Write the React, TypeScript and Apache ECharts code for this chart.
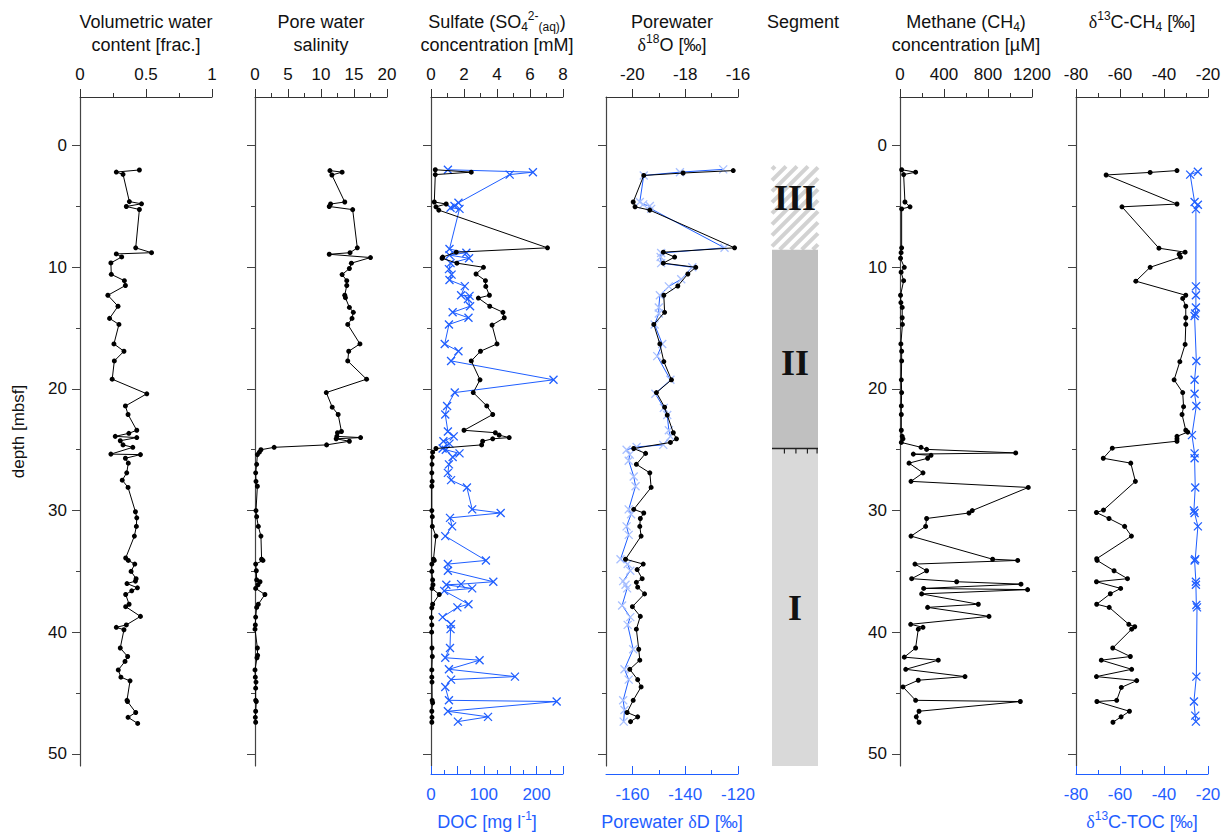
import React, { useEffect, useRef } from "react";
import * as echarts from "echarts";

const FONT = "'Liberation Sans', Arial, Helvetica, sans-serif";
const SERIF = "'Liberation Serif', 'DejaVu Serif', serif";
const BLUE = "#1f5eff";
const LIGHT_BLUE = "#a9c0ff";
const AXIS = "#333";
const TEXT = "#111";

const Y_MIN = -4;
const Y_MAX = 51;
const DEPTH_MAJOR = [0, 10, 20, 30, 40, 50];
const DEPTH_MINOR = [5, 15, 25, 35, 45];

// ---------- Volumetric water content ----------
const WC_DEPTH = [2.0, 2.17, 2.36, 4.6, 4.78, 5.0, 5.25, 8.4, 8.8, 8.9, 9.15, 9.64, 10.58, 11.1, 11.5, 12.3, 13.2, 14.2, 14.7, 16.3, 16.9, 17.7, 19.2, 20.4, 21.4, 22.1, 23.4, 23.65, 23.9, 24.0, 24.26, 24.6, 24.8, 25.36, 25.4, 25.7, 26.1, 26.9, 27.5, 28.1, 30.1, 30.6, 31.3, 32.1, 33.9, 34.1, 34.4, 35.0, 35.6, 35.8, 36.0, 36.35, 36.6, 36.9, 37.7, 37.9, 38.7, 39.4, 39.6, 39.8, 41.3, 42.0, 42.4, 43.1, 43.7, 44.0, 45.6, 45.7, 46.6, 47.0, 47.5];
const WC_VALUE = [0.45, 0.275, 0.326, 0.374, 0.466, 0.351, 0.45, 0.422, 0.542, 0.275, 0.316, 0.234, 0.237, 0.336, 0.344, 0.211, 0.288, 0.224, 0.295, 0.257, 0.333, 0.26, 0.244, 0.506, 0.344, 0.364, 0.43, 0.37, 0.267, 0.43, 0.305, 0.326, 0.4, 0.234, 0.458, 0.344, 0.366, 0.354, 0.32, 0.364, 0.42, 0.43, 0.427, 0.412, 0.346, 0.366, 0.415, 0.387, 0.425, 0.42, 0.356, 0.435, 0.392, 0.346, 0.372, 0.346, 0.458, 0.351, 0.275, 0.333, 0.305, 0.361, 0.341, 0.29, 0.31, 0.379, 0.356, 0.36, 0.422, 0.364, 0.437];

// ---------- Pore water salinity ----------
const SAL_DEPTH = [2.05, 2.18, 2.41, 4.63, 4.8, 5.0, 5.26, 8.4, 8.8, 8.93, 9.2, 9.66, 10.1, 10.6, 11.1, 11.5, 12.3, 12.5, 13.3, 13.7, 14.2, 14.7, 16.3, 16.9, 17.7, 19.2, 20.3, 21.5, 22.1, 23.5, 23.6, 23.9, 24.0, 24.1, 24.3, 24.6, 24.8, 25.0, 25.2, 25.4, 26.2, 26.9, 27.6, 28.0, 30.0, 30.5, 31.3, 32.1, 34.0, 34.1, 34.4, 34.95, 35.7, 35.85, 36.1, 36.4, 36.9, 37.7, 37.96, 38.76, 39.4, 39.75, 41.3, 41.9, 42.1, 43.1, 43.7, 44.1, 44.6, 45.6, 45.7, 46.5, 47.0, 47.4];
const SAL_VALUE = [11.35, 13.2, 11.65, 13.6, 11.45, 11.25, 14.8, 15.5, 14.4, 11.25, 17.5, 14.6, 14.3, 13.2, 13.9, 13.9, 13.6, 13.7, 14.3, 14.9, 14.7, 14.05, 15.9, 14.2, 14.05, 16.9, 10.8, 11.7, 12.6, 13.1, 12.5, 12.4, 16.0, 12.3, 14.3, 10.85, 2.9, 0.9, 0.66, 0.36, 0.25, 0.1, 0.15, 0.36, 0.15, 0.25, 0.5, 0.9, 1.0, 1.2, 0.1, 0.2, 0.25, 0.76, 0.46, 0.1, 1.5, 0.5, 0.25, 0.1, 0.05, 0.0, 0.36, 0.4, 0.3, 0.0, 0.05, 0.15, 0.1, 0.1, 0.2, 0.1, 0.05, 0.1];

// ---------- Sulfate ----------
const SO4_DEPTH = [1.98, 2.18, 2.38, 4.63, 4.8, 5.03, 5.3, 8.4, 8.76, 9.16, 9.26, 9.66, 10.0, 10.55, 11.1, 11.57, 12.3, 12.53, 13.2, 13.7, 14.15, 14.75, 16.3, 16.9, 17.7, 19.25, 20.3, 21.4, 22.1, 23.4, 23.6, 23.8, 24.0, 24.1, 24.3, 24.6, 24.9, 25.2, 25.6, 26.2, 26.9, 27.6, 28.0, 30.0, 30.5, 31.3, 32.1, 34.0, 34.1, 34.4, 35.0, 35.7, 36.1, 36.4, 36.9, 37.7, 38.0, 38.8, 39.4, 40.0, 41.3, 42.0, 43.1, 43.7, 44.1, 45.6, 45.8, 46.5, 47.0, 47.4];
const SO4_VALUE = [0.26, 2.44, 0.26, 0.2, 0.92, 0.3, 0.47, 7.06, 1.53, 0.71, 0.67, 1.57, 3.18, 2.73, 3.3, 3.32, 3.54, 2.87, 3.56, 4.36, 4.44, 3.7, 4.0, 3.0, 2.44, 2.97, 2.56, 3.38, 3.74, 2.0, 3.9, 4.13, 4.74, 3.74, 3.13, 3.07, 0.3, 0.1, 0.08, 0.06, 0.05, 0.07, 0.05, 0.05, 0.08, 0.08, 0.3, 0.15, 0.2, 0.05, 0.05, 0.1, 0.12, 0.06, 0.5, 0.1, 0.05, 0.03, 0.05, 0.04, 0.06, 0.08, 0.05, 0.05, 0.06, 0.07, 0.1, 0.05, 0.06, 0.05];

// ---------- DOC ----------
const DOC_DEPTH = [1.98, 2.18, 2.38, 4.7, 4.96, 5.1, 5.2, 8.5, 8.8, 9.0, 9.26, 9.66, 10.15, 10.6, 11.05, 11.55, 12.3, 12.35, 12.6, 13.2, 13.7, 14.15, 14.7, 16.3, 16.9, 17.7, 19.25, 20.3, 21.4, 22.1, 23.5, 23.9, 24.3, 24.5, 24.9, 25.0, 25.3, 25.6, 26.2, 26.9, 27.5, 28.1, 29.9, 30.2, 30.6, 31.3, 32.1, 34.1, 34.4, 34.95, 35.85, 36.05, 36.1, 36.4, 36.6, 37.7, 37.96, 38.76, 39.35, 39.75, 41.3, 42.1, 42.3, 43.05, 43.65, 43.9, 44.5, 45.6, 45.7, 46.5, 46.96, 47.35];
const DOC_VALUE = [32, 193, 149, 52, 44.5, 37, 54, 35, 67, 35, 72, 37, 34, 39, 35, 64, 57, 73, 70, 74, 41, 71, 34, 26, 52, 38, 232, 45, 30.5, 27, 32, 43, 23.5, 35, 22, 28, 54, 41, 34, 32, 38, 68, 78, 132, 36, 40, 27, 104, 32, 32, 118, 57, 29, 78, 25, 71, 50, 22, 38, 37, 36, 27, 92, 34, 159, 38, 27, 34, 238, 32, 108, 51];

// ---------- Porewater d18O ----------
const O18_DEPTH = [2.05, 2.25, 2.45, 4.63, 5.03, 5.3, 8.4, 8.76, 9.16, 9.66, 10.0, 10.55, 11.54, 12.3, 13.7, 14.7, 16.3, 17.75, 19.25, 20.3, 21.5, 22.15, 23.6, 24.1, 24.4, 24.9, 25.3, 26.2, 26.9, 28.1, 29.9, 30.2, 30.65, 31.3, 32.1, 34.0, 34.4, 34.85, 35.6, 35.9, 36.3, 36.85, 37.9, 38.7, 39.75, 41.4, 42.3, 43.05, 43.9, 44.5, 45.6, 46.6, 46.96, 47.35];
const O18_VALUE = [-16.18, -18.08, -19.57, -19.97, -19.9, -19.34, -16.13, -18.83, -18.4, -18.83, -17.6, -17.9, -18.28, -18.81, -18.78, -19.19, -18.96, -18.81, -18.52, -19.09, -18.78, -18.68, -18.45, -18.33, -18.56, -19.95, -19.5, -19.85, -19.34, -19.29, -19.95, -19.57, -19.7, -19.72, -19.67, -20.26, -19.59, -19.82, -19.63, -19.85, -19.8, -19.54, -20.0, -19.7, -19.85, -19.76, -19.72, -20.1, -19.8, -19.67, -19.97, -20.2, -19.8, -20.07];

// ---------- Porewater dD ----------
const DD_DEPTH = [1.95, 2.18, 2.45, 4.63, 4.83, 4.96, 5.2, 8.4, 8.83, 9.16, 9.66, 10.0, 10.98, 11.57, 12.3, 13.3, 13.8, 14.7, 16.3, 17.3, 19.25, 20.4, 21.56, 22.15, 23.4, 23.9, 24.6, 24.77, 25.0, 25.4, 25.9, 27.2, 28.0, 29.9, 30.3, 31.3, 32.0, 34.0, 34.4, 34.95, 35.8, 36.1, 36.4, 37.8, 38.76, 39.4, 41.4, 43.05, 43.9, 45.6, 46.4, 47.35];
const DD_VALUE = [-125.6, -142.0, -155.7, -157.2, -155.9, -153.4, -152.9, -125.1, -149.1, -149.3, -149.1, -137.3, -141.5, -146.2, -149.6, -150, -150, -151.6, -148.7, -150.6, -145.6, -151.3, -148.1, -146.8, -146.2, -145.6, -148.3, -158.4, -162.2, -161, -161.4, -159.5, -158.8, -161.4, -160.5, -162.2, -161.4, -164.5, -161.8, -160.8, -163.5, -162.6, -162, -163.9, -160.8, -161.8, -159.7, -163, -161.4, -163.5, -163, -163.3];

// ---------- Segments ----------
const SEG_LABEL = ["III", "II", "I"];
const SEG_TOP = [1.7, 8.55, 24.9];
const SEG_BOTTOM = [8.55, 24.9, 51];
const SEG_LABEL_DEPTH = [4.3, 17.9, 38.0];

// ---------- Methane ----------
const CH4_DEPTH = [1.98, 2.18, 2.38, 4.63, 5.03, 5.2, 8.4, 8.8, 9.26, 10.0, 10.4, 11.1, 12.3, 12.9, 13.3, 14.15, 14.7, 16.3, 16.9, 17.7, 19.25, 20.3, 21.4, 22.1, 23.4, 23.9, 24.1, 24.4, 24.8, 24.97, 25.26, 25.36, 25.46, 25.7, 26.1, 26.9, 27.6, 28.1, 30.0, 30.2, 30.65, 31.3, 32.1, 34.0, 34.1, 34.4, 34.95, 35.6, 35.85, 36.05, 36.4, 36.5, 36.85, 37.7, 37.96, 38.7, 39.35, 39.6, 39.75, 41.3, 42.05, 42.3, 43.05, 43.65, 43.95, 44.5, 45.6, 45.7, 46.5, 46.96, 47.4];
const CH4_VALUE = [15, 142, 33, 45, 91, 15, 15, 10, 5, 39, 10, 33, 5, 8, 20, 20, 22, 8, 15, 15, 12, 15, 12, 12, 12, 20, 27, 12, 191, 242, 1052, 121, 282, 251, 82, 209, 100, 1166, 657, 627, 242, 233, 100, 842, 1070, 136, 242, 106, 515, 1100, 215, 1160, 197, 712, 251, 809, 97, 209, 166, 142, 39, 348, 52, 591, 166, 27, 142, 1094, 173, 148, 173];

// ---------- d13C-CH4 ----------
const C13CH4_DEPTH = [2.05, 2.2, 2.41, 4.8, 5.03, 8.43, 8.76, 8.93, 9.16, 10.0, 11.14, 12.3, 12.56, 13.2, 14.15, 14.7, 16.34, 17.76, 19.25, 20.3, 21.46, 22.1, 23.4, 23.55, 23.9, 24.1, 24.3, 24.87, 25.7, 26.1, 27.6, 29.96, 30.16, 30.65, 31.3, 32.1, 33.96, 34.1, 34.95, 35.6, 35.85, 36.4, 36.84, 37.7, 37.96, 39.35, 39.55, 39.75, 41.3, 42.0, 42.3, 43.05, 43.65, 43.98, 44.54, 45.6, 45.7, 46.5, 46.96, 47.4];
const C13CH4_VALUE = [-34.1, -46.3, -66.3, -34.1, -59.1, -42.3, -30.4, -33.1, -32.5, -46.3, -52.8, -30.1, -31.5, -30.1, -30.1, -30.1, -30.4, -32.8, -35.4, -31.5, -31.1, -31.8, -30.1, -29.2, -34.1, -34.1, -34.1, -63.5, -67.6, -55.1, -53, -67.5, -70.7, -65, -57.9, -54.8, -70.6, -70.4, -62.7, -56.6, -70.7, -59.7, -64.4, -70.6, -64.9, -56, -53.3, -54.7, -63.3, -55.3, -68.5, -54.7, -70.7, -52.4, -59.4, -61.5, -70.5, -55.7, -59.5, -63.2];

// ---------- d13C-TOC ----------
const C13TOC_DEPTH = [2.15, 2.38, 4.63, 4.86, 5.22, 11.57, 12.3, 13.3, 13.8, 14.0, 17.7, 19.25, 20.4, 21.4, 23.8, 25.3, 25.7, 28.1, 30.0, 30.2, 31.3, 34.0, 34.1, 35.85, 36.1, 37.76, 37.96, 43.65, 45.7, 46.86, 47.35];
const C13TOC_VALUE = [-24.6, -28.1, -26.1, -24.6, -25.5, -25.5, -25.5, -25.5, -25.8, -26.1, -25.3, -26.1, -26.1, -25.3, -27.3, -26.1, -26.1, -25.8, -26.4, -26.1, -24.6, -25.8, -26.1, -25.5, -25.5, -25.3, -25.0, -25.3, -26.4, -25.8, -25.5];

// ---------- layout ----------
const GRID_LEFT = [80, 255, 431, 606, 772, 900, 1076];
const GRID_WIDTH = [132, 132, 132, 132, 46, 132, 132];
const GRID_TOP = 97;
const GRID_HEIGHT = 669;

const CROSS = "path://M0,0L10,10M10,0L0,10";

function zip(vals: number[], depths: number[]) {
  return depths.map((d, i) => [vals[i], d]);
}

function mkRich(color: string) {
  return {
    sub: { fontSize: 12, fontFamily: FONT, fill: color, verticalAlign: "bottom", lineHeight: 10 },
    sup: { fontSize: 12, fontFamily: FONT, fill: color, verticalAlign: "top", lineHeight: 16 },
    d: { fontSize: 18, fontFamily: SERIF, fill: color },
  };
}

function label(text: string, x: number, y: number, color = TEXT) {
  return {
    type: "text",
    x,
    y,
    style: {
      text,
      fill: color,
      fontSize: 18,
      fontFamily: FONT,
      lineHeight: 23,
      align: "center",
      verticalAlign: "top",
      rich: mkRich(color),
    },
  };
}

function deepMerge(a: any, b: any): any {
  const out: any = Array.isArray(a) ? [...a] : { ...a };
  Object.keys(b).forEach((k) => {
    const bv = b[k];
    if (bv && typeof bv === "object" && !Array.isArray(bv) && a[k] && typeof a[k] === "object" && !Array.isArray(a[k])) {
      out[k] = deepMerge(a[k], bv);
    } else {
      out[k] = bv;
    }
  });
  return out;
}

const plainNum = (v: number) => String(v);

function topAxis(gridIndex: number, min: number, max: number, interval: number | null, extra: any = {}) {
  const ax: any = {
    type: "value",
    gridIndex,
    position: "top",
    min,
    max,
    axisLine: { show: true, onZero: false, lineStyle: { color: AXIS, width: 1 } },
    axisTick: { show: true, length: 8, lineStyle: { color: AXIS } },
    minorTick: { show: interval !== null, splitNumber: 2, length: 4, lineStyle: { color: AXIS } },
    axisLabel: { show: true, fontSize: 17, fontFamily: FONT, color: TEXT, margin: 14, formatter: plainNum },
    splitLine: { show: false },
    minorSplitLine: { show: false },
  };
  if (interval !== null) ax.interval = interval;
  return deepMerge(ax, extra);
}

function bottomAxis(gridIndex: number, min: number, max: number, interval: number | null, extra: any = {}) {
  return topAxis(gridIndex, min, max, interval, deepMerge({
    position: "bottom",
    offset: 8,
    axisLine: { lineStyle: { color: BLUE } },
    axisTick: { inside: true, lineStyle: { color: BLUE } },
    minorTick: { lineStyle: { color: BLUE } },
    axisLabel: { color: BLUE, margin: 12 },
  }, extra));
}

function minorOverlay(axis: any, values: number[]) {
  return deepMerge(axis, {
    axisLine: { show: false },
    axisLabel: { show: false },
    axisTick: { customValues: values, length: 4 },
    minorTick: { show: false },
  });
}

function buildOption() {
  const xAxes: any[] = [];
  const add = (ax: any) => { xAxes.push(ax); return xAxes.length - 1; };

  const xWC = add(topAxis(0, 0, 1, 0.5));
  const xSAL = add(topAxis(1, 0, 20, 5));
  const xSO4 = add(topAxis(2, 0, 8, 2));
  const xDOC = add(bottomAxis(2, 0, 250, 50, {
    axisLabel: { formatter: (v: number) => (v % 100 === 0 ? String(v) : "") },
  }));
  const o18Main = topAxis(3, -21, -16, null, {
    axisTick: { customValues: [-20, -18, -16] },
    axisLabel: { customValues: [-20, -18, -16] },
  });
  const xO18 = add(o18Main);
  add(minorOverlay(o18Main, [-19, -17]));
  const dDMain = bottomAxis(3, -170, -120, null, {
    axisTick: { customValues: [-160, -140, -120] },
    axisLabel: { customValues: [-160, -140, -120] },
  });
  const xDD = add(dDMain);
  add(minorOverlay(dDMain, [-150, -130]));
  const xSEG = add({ type: "value", gridIndex: 4, min: 0, max: 1, show: false });
  const xCH4 = add(topAxis(5, 0, 1200, 400));
  const xC13 = add(topAxis(6, -80, -20, 20));
  const xTOC = add(bottomAxis(6, -80, -20, 20));

  const yAxes: any[] = [];
  const yIdx: number[] = [];
  GRID_LEFT.forEach((_, g) => {
    yIdx[g] = yAxes.length;
    if (g === 4) {
      yAxes.push({ type: "value", gridIndex: g, inverse: true, min: Y_MIN, max: Y_MAX, show: false });
      return;
    }
    const showLabels = g === 0 || g === 5;
    const main: any = {
      type: "value",
      gridIndex: g,
      inverse: true,
      min: Y_MIN,
      max: Y_MAX,
      position: "left",
      axisLine: { show: true, onZero: false, lineStyle: { color: "#444", width: 1.2 } },
      axisTick: { show: true, customValues: DEPTH_MAJOR, length: 8, lineStyle: { color: "#444" } },
      axisLabel: { show: showLabels, customValues: DEPTH_MAJOR, fontSize: 17, fontFamily: FONT, color: TEXT, margin: 13 },
      splitLine: { show: false },
    };
    if (g === 0) {
      main.name = "depth [mbsf]";
      main.nameLocation = "middle";
      main.nameGap = 53;
      main.nameRotate = 90;
      main.nameTextStyle = { fontSize: 17, fontFamily: FONT, color: TEXT };
    }
    yAxes.push(main);
    yAxes.push({
      ...main,
      name: "",
      axisLine: { show: false },
      axisLabel: { show: false },
      axisTick: { show: true, customValues: DEPTH_MINOR, length: 4, lineStyle: { color: "#444" } },
    });
  });

  const grids = GRID_LEFT.map((left, i) => ({
    left,
    top: GRID_TOP,
    width: GRID_WIDTH[i],
    height: GRID_HEIGHT,
    containLabel: false,
  }));

  const dotLine = (xi: number, g: number, vals: number[], depths: number[]) => ({
    type: "line",
    xAxisIndex: xi,
    yAxisIndex: yIdx[g],
    data: zip(vals, depths),
    symbol: "circle",
    symbolSize: 5,
    showSymbol: true,
    lineStyle: { color: "#000", width: 1 },
    itemStyle: { color: "#000" },
    z: 4,
    silent: true,
  });
  const crossLine = (xi: number, g: number, vals: number[], depths: number[], markColor: string) => ({
    type: "line",
    xAxisIndex: xi,
    yAxisIndex: yIdx[g],
    data: zip(vals, depths),
    symbol: CROSS,
    symbolSize: 8,
    showSymbol: true,
    lineStyle: { color: BLUE, width: 1 },
    itemStyle: { color: markColor, borderColor: markColor, borderWidth: 1.3 },
    z: 3,
    silent: true,
  });

  const segData = SEG_LABEL.map((_, i) => [SEG_TOP[i], SEG_BOTTOM[i], i, SEG_LABEL_DEPTH[i]]);
  const segFill = ["#ffffff", "#c0c0c0", "#d9d9d9"];

  const segSeries = {
    type: "custom",
    xAxisIndex: xSEG,
    yAxisIndex: yIdx[4],
    data: segData,
    silent: true,
    renderItem: (_params: any, api: any) => {
      const top = api.value(0);
      const bottom = api.value(1);
      const k = api.value(2);
      const ld = api.value(3);
      const p0 = api.coord([0, top]);
      const p1 = api.coord([1, bottom]);
      const x = p0[0];
      const y = p0[1];
      const w = p1[0] - p0[0];
      const h = p1[1] - p0[1];
      const children: any[] = [];
      children.push({ type: "rect", shape: { x, y, width: w, height: h }, style: { fill: segFill[k] } });
      if (k === 0) {
        const step = 11;
        for (let c = x + y + 3; c < x + w + y + h; c += step) {
          const xa = Math.max(x, c - (y + h));
          const xb = Math.min(x + w, c - y);
          if (xb > xa) {
            children.push({
              type: "line",
              shape: { x1: xa, y1: c - xa, x2: xb, y2: c - xb },
              style: { stroke: "#d2d2d2", lineWidth: 4 },
            });
          }
        }
      }
      if (k === 2) {
        children.push({ type: "line", shape: { x1: x, y1: y, x2: x + w, y2: y }, style: { stroke: "#222", lineWidth: 1.5 } });
        [0.27, 0.52, 0.77, 0.98].forEach((f) => {
          children.push({
            type: "line",
            shape: { x1: x + w * f, y1: y, x2: x + w * f, y2: y + 5 },
            style: { stroke: "#222", lineWidth: 1.2 },
          });
        });
      }
      const lp = api.coord([0.5, ld]);
      children.push({
        type: "text",
        x: lp[0],
        y: lp[1],
        style: {
          text: SEG_LABEL[k],
          fontSize: 36,
          fontFamily: SERIF,
          fontWeight: "bold",
          fill: "#111",
          align: "center",
          verticalAlign: "middle",
        },
      });
      return { type: "group", children };
    },
  };

  const series: any[] = [
    dotLine(xWC, 0, WC_VALUE, WC_DEPTH),
    dotLine(xSAL, 1, SAL_VALUE, SAL_DEPTH),
    crossLine(xDOC, 2, DOC_VALUE, DOC_DEPTH, BLUE),
    dotLine(xSO4, 2, SO4_VALUE, SO4_DEPTH),
    crossLine(xDD, 3, DD_VALUE, DD_DEPTH, LIGHT_BLUE),
    dotLine(xO18, 3, O18_VALUE, O18_DEPTH),
    segSeries,
    dotLine(xCH4, 5, CH4_VALUE, CH4_DEPTH),
    dotLine(xC13, 6, C13CH4_VALUE, C13CH4_DEPTH),
    crossLine(xTOC, 6, C13TOC_VALUE, C13TOC_DEPTH, BLUE),
  ];

  const cx = GRID_LEFT.map((l, i) => l + GRID_WIDTH[i] / 2);
  const graphic = [
    label("Volumetric water\ncontent [frac.]", cx[0], 10),
    label("Pore water\nsalinity", cx[1], 10),
    label("Sulfate (SO{sub|4}{sup|2-}{sub|(aq)})\nconcentration [mM]", cx[2], 10),
    label("Porewater\n{d|δ}{sup|18}O [‰]", cx[3], 10),
    label("Segment", cx[4] + 8, 10),
    label("Methane (CH{sub|4})\nconcentration [µM]", cx[5], 10),
    label("{d|δ}{sup|13}C-CH{sub|4} [‰]", cx[6], 10),
    label("DOC [mg l{sup|-1}]", cx[2] - 10, 810, BLUE),
    label("Porewater {d|δ}D [‰]", cx[3], 810, BLUE),
    label("{d|δ}{sup|13}C-TOC [‰]", cx[6], 810, BLUE),
  ];

  return {
    animation: false,
    backgroundColor: "#ffffff",
    textStyle: { fontFamily: FONT },
    grid: grids,
    xAxis: xAxes,
    yAxis: yAxes,
    series,
    graphic,
  };
}

export default function App() {
  const ref = useRef<HTMLDivElement>(null);
  useEffect(() => {
    if (!ref.current) return;
    const chart = echarts.init(ref.current, null, { renderer: "svg" });
    chart.setOption(buildOption() as any);
    return () => chart.dispose();
  }, []);
  return (
    <div
      ref={ref}
      style={{ position: "absolute", left: 0, top: 0, width: 1229, height: 833, background: "#fff" }}
    />
  );
}
